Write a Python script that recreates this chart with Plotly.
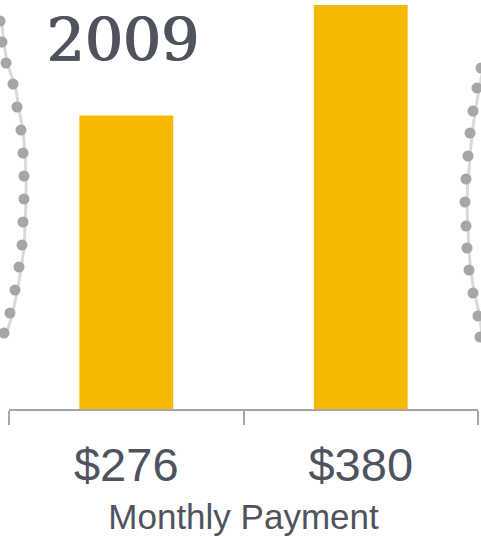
import plotly.graph_objects as go

categories = ["$276", "$380"]
payments = [276, 380]
year_label = "2009"
axis_title = "Monthly Payment"

# decorative dotted arcs (pixel positions in the picture)
left_arc_x = [0, 2, 6, 13, 17, 21, 23, 24, 24, 23, 22, 19, 15, 10, 4]
left_arc_y = [21, 42, 63, 84, 107, 130, 153, 176, 199, 222, 245, 267, 290, 313, 333]
right_arc_x = [481, 477, 473, 470, 468, 466, 465, 466, 467, 469, 473, 478, 480]
right_arc_y = [68, 88, 111, 133, 156, 179, 202, 226, 248, 270, 293, 316, 337]

BAR = "#F5BA00"
TEXT = "#4F535E"
AXIS = "#A6A6A6"
DOT = "#A6A6A6"

W, H = 481, 538
PLOT_BOTTOM = 409

fig = go.Figure()
fig.add_trace(go.Bar(x=categories, y=payments, marker=dict(color=BAR, line=dict(width=0)),
                     width=0.4, hoverinfo="skip"))

for xs, ys in [(left_arc_x, left_arc_y), (right_arc_x, right_arc_y)]:
    fig.add_trace(go.Scatter(x=[v + 2 for v in xs], y=[v + 2 for v in ys], mode="lines",
                             line=dict(color="#D9D9D9", width=3, shape="spline"),
                             xaxis="x2", yaxis="y2", cliponaxis=False, hoverinfo="skip"))
    fig.add_trace(go.Scatter(x=xs, y=ys, mode="markers",
                             marker=dict(color=DOT, size=11, line=dict(width=0)),
                             xaxis="x2", yaxis="y2", cliponaxis=False, hoverinfo="skip"))

fig.add_annotation(text=year_label, xref="paper", yref="paper", x=122 / W, y=1 - 40 / PLOT_BOTTOM,
                   showarrow=False, xanchor="center", yanchor="middle",
                   font=dict(family="DejaVu Serif", size=60, color=TEXT,
                             shadow="1.5px 0px 0px #4F535E"))

fig.update_layout(
    width=W, height=H,
    margin=dict(l=0, r=0, t=0, b=H - PLOT_BOTTOM),
    paper_bgcolor="white", plot_bgcolor="rgba(0,0,0,0)",
    showlegend=False,
    xaxis=dict(type="category", range=[-0.5, 1.5], domain=[9 / W, 478 / W], anchor="y",
               showline=True, linecolor=AXIS, linewidth=2,
               ticks="outside", tickson="boundaries", ticklen=14, tickcolor=AXIS, tickwidth=2,
               ticklabelstandoff=14,
               tickfont=dict(family="Liberation Sans", size=47, color=TEXT),
               title=dict(text=axis_title, standoff=14,
                          font=dict(family="Liberation Sans", size=35, color=TEXT)),
               showgrid=False, zeroline=False, fixedrange=True),
    yaxis=dict(range=[0, 380 * 409 / 404], autorange=False, visible=False, anchor="x",
               showgrid=False, zeroline=False),
    xaxis2=dict(range=[0, W], autorange=False, domain=[0, 1], anchor="y2", visible=False,
                showgrid=False, zeroline=False),
    yaxis2=dict(range=[PLOT_BOTTOM, 0], autorange=False, domain=[0, 1], anchor="x2", visible=False,
                showgrid=False, zeroline=False),
)

fig.write_html("out.html")
